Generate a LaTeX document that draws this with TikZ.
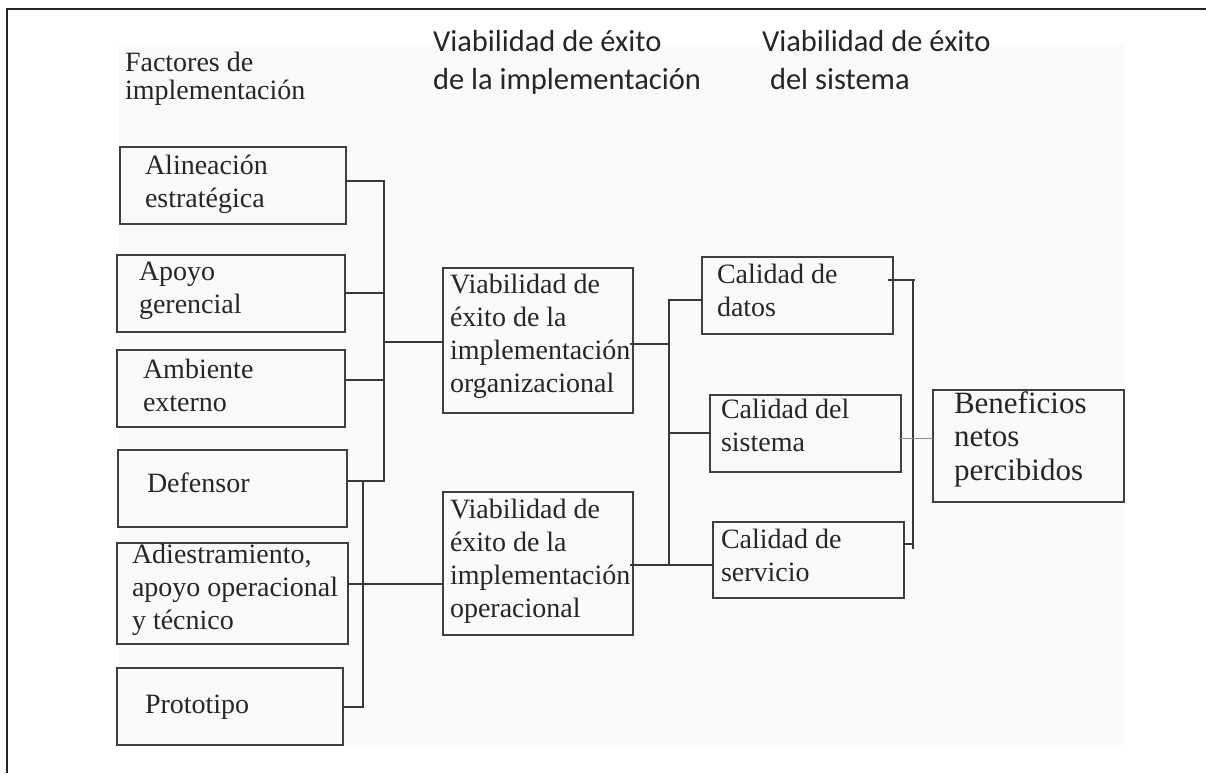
\documentclass[tikz,border=0pt]{standalone}
\usepackage{fontspec}
\setmainfont{Liberation Serif}
\newfontfamily\hdsans{Carlito}
\usetikzlibrary{calc}
\newcommand\mylines[1]{\vtop{\halign{##\hfil\cr#1\crcr}}}
\begin{document}
\begin{tikzpicture}[x=1pt,y=-1pt,
  bx/.style={draw=black!75,line width=1.8pt,inner sep=0pt,outer sep=0pt},
  tx/.style={inner sep=0pt,outer sep=0pt,anchor=base west,text=black!85,font=\fontsize{28}{33.3}\selectfont},
  bigtx/.style={tx,font=\fontsize{31}{33.5}\selectfont},
  hserif/.style={tx,font=\fontsize{28}{28}\selectfont},
  hsans/.style={tx,font=\hdsans\fontsize{30.5}{38}\selectfont},
  conn/.style={draw=black!78,line width=1.6pt},
  thinconn/.style={draw=black!45,line width=0.9pt}]
\useasboundingbox (0,0) rectangle (1206,773);
\fill[black!2] (118,45) rectangle (1124,745);
\draw[black!85,line width=1.6pt] (7,773) -- (7,9) -- (1206,9);
% headers
\node[hserif] (h1) at (125,72) {\mylines{Factores de\cr implementación}};
\node[hsans] (h2) at (433,52) {\mylines{Viabilidad de éxito\cr de la implementación}};
\node[hsans] (h3) at (762,52) {\mylines{Viabilidad de éxito\cr \hspace*{8pt}del sistema}};
% boxes
\node[bx,minimum width=226pt,minimum height=77pt] (ali) at (233,185.5) {};
\node[bx,minimum width=228pt,minimum height=77pt] (apo) at (231,293.5) {};
\node[bx,minimum width=228pt,minimum height=77pt] (amb) at (231,388.5) {};
\node[bx,minimum width=229pt,minimum height=77pt] (def) at (232.5,488.5) {};
\node[bx,minimum width=231pt,minimum height=101pt] (adi) at (232.5,593.5) {};
\node[bx,minimum width=226pt,minimum height=77pt] (pro) at (230,706.5) {};
\node[bx,minimum width=190pt,minimum height=145pt] (org) at (538,340.5) {};
\node[bx,minimum width=190pt,minimum height=143pt] (ope) at (538,563.5) {};
\node[bx,minimum width=191pt,minimum height=77pt] (dat) at (797.5,295.5) {};
\node[bx,minimum width=191pt,minimum height=77pt] (sis) at (805.5,433.5) {};
\node[bx,minimum width=191pt,minimum height=76pt] (ser) at (808.5,560) {};
\node[bx,minimum width=191pt,minimum height=112pt] (ben) at (1028.5,446) {};
% texts
\node[tx] (ali-t) at (145,174) {\mylines{Alineación\cr estratégica}};
\node[tx] (apo-t) at (139,280) {\mylines{Apoyo\cr gerencial}};
\node[tx] (amb-t) at (143,378) {\mylines{Ambiente\cr externo}};
\node[tx] (def-t) at (147,492) {\mylines{Defensor}};
\node[tx] (adi-t) at (132,563) {\mylines{Adiestramiento,\cr apoyo operacional\cr y técnico}};
\node[tx] (pro-t) at (145,713) {\mylines{Prototipo}};
\node[tx] (org-t) at (450,293) {\mylines{Viabilidad de\cr éxito de la\cr implementación\cr organizacional}};
\node[tx] (ope-t) at (450,518) {\mylines{Viabilidad de\cr éxito de la\cr implementación\cr operacional}};
\node[tx] (dat-t) at (717,283) {\mylines{Calidad de\cr datos}};
\node[tx] (sis-t) at (721,418) {\mylines{Calidad del\cr sistema}};
\node[tx] (ser-t) at (721,548) {\mylines{Calidad de\cr servicio}};
\node[bigtx] (ben-t) at (954,413) {\mylines{Beneficios\cr netos\cr percibidos}};
% connectors
\coordinate (b1t) at (384,181);
\coordinate (b1b) at (384,481);
\coordinate (b2t) at (363,481);
\coordinate (b2b) at (363,707);
\coordinate (b3t) at (669,300);
\coordinate (b3b) at (669,565);
\coordinate (b4t) at (913,280);
\coordinate (b4b) at (913,549);
\draw[conn] (ali.east |- b1t) -- (b1t) -- (b1b) -- (def.east |- b1b);
\draw[conn] (apo.east |- 0,293) -- (b1t |- 0,293);
\draw[conn] (amb.east |- 0,380) -- (b1t |- 0,380);
\draw[conn] (b1t |- 0,342) -- (org.west |- 0,342);
\draw[conn] (b2t) -- (b2b) -- (pro.east |- b2b);
\draw[conn] (adi.east |- 0,584) -- (ope.west |- 0,584);
\draw[conn] ([xshift=-3pt]org.east |- 0,344) -- (b3t |- 0,344);
\draw[conn] (dat.west |- b3t) -- (b3t) -- (b3b);
\draw[conn] ([xshift=-3pt]ope.east |- b3b) -- (ser.west |- b3b);
\draw[conn] (b3t |- 0,433) -- (sis.west |- 0,433);
\draw[conn] ([xshift=-5pt]dat.east |- b4t) -- ([xshift=2pt]b4t);
\draw[conn] (b4t) -- (b4b);
\draw[conn] (ser.east |- 0,544) -- (b4b |- 0,544);
\draw[thinconn] ([xshift=-2pt]sis.east |- 0,438) -- (ben.west |- 0,438);
\end{tikzpicture}
\end{document}
